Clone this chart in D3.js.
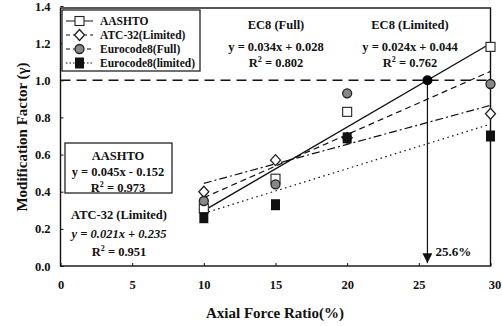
<!DOCTYPE html>
<html>
<head>
<meta charset="utf-8">
<script src="https://cdn.jsdelivr.net/npm/d3@7"></script>
<style>
  body { margin: 0; background: #fff; }
  svg text { font-family: "Liberation Serif", "Times New Roman", serif; font-weight: bold; fill: #111; }
</style>
</head>
<body>
<svg id="chart" width="502" height="326"></svg>
<script>
// datos
const ratios = [10, 15, 20, 30];
const aashto = [0.31, 0.47, 0.83, 1.18];
const atc32 = [0.40, 0.57, 0.69, 0.82];
const ec8Full = [0.35, 0.44, 0.93, 0.98];
const ec8Limited = [0.26, 0.33, 0.69, 0.70];
const xTicks = [0, 5, 10, 15, 20, 25, 30];
const yTicks = [0.0, 0.2, 0.4, 0.6, 0.8, 1.0, 1.2, 1.4];
// rectas de ajuste: pendiente, ordenada
const fitAashto = [0.045, -0.152];
const fitAtc = [0.021, 0.235];
const fitFull = [0.034, 0.028];
const fitLimited = [0.024, 0.044];
const crossing = 25.6;

const svg = d3.select("#chart");
const x = d3.scaleLinear().domain([0, 30]).range([60.5, 490.5]);
const y = d3.scaleLinear().domain([0, 1.4]).range([266, 6]);

// marco
svg.append("rect")
    .attr("x", x(0)).attr("y", 8)
    .attr("width", x(30) - x(0)).attr("height", y(0) - 8)
    .attr("fill", "none").attr("stroke", "#111").attr("stroke-width", 1.4);

// ejes
const xAxis = svg.append("g").attr("transform", `translate(0,${y(0)})`)
    .call(d3.axisBottom(x).tickValues(xTicks).tickFormat(d3.format("d")).tickSize(-3).tickPadding(14));
const yAxis = svg.append("g").attr("transform", `translate(${x(0)},0)`)
    .call(d3.axisLeft(y).tickValues(yTicks).tickFormat(d3.format(".1f")).tickSize(-3).tickPadding(10));
[xAxis, yAxis].forEach(g => {
    g.select(".domain").remove();
    g.selectAll("line").attr("stroke", "#111");
    g.selectAll("text").attr("font-size", 12.5).attr("font-family", "Liberation Serif").attr("font-weight", "bold");
});
xAxis.select(".tick:last-of-type text").attr("dx", 4);

svg.append("text").attr("x", 275).attr("y", 318).attr("text-anchor", "middle")
    .attr("font-size", 15).text("Axial Force Ratio(%)");
svg.append("text").attr("transform", "translate(27,137) rotate(-90)").attr("text-anchor", "middle")
    .attr("font-size", 15).text("Modification Factor (γ)");

// linea horizontal en 1.0
svg.append("line")
    .attr("x1", x(0)).attr("x2", x(30)).attr("y1", y(1)).attr("y2", y(1))
    .attr("stroke", "#111").attr("stroke-width", 1.4).attr("stroke-dasharray", "10,6");

// rectas de ajuste
const fits = [
    { f: fitAashto, dash: null },
    { f: fitAtc, dash: "8,3,2,3" },
    { f: fitFull, dash: "6,4" },
    { f: fitLimited, dash: "1.5,3.5" }
];
fits.forEach(d => {
    svg.append("line")
        .attr("x1", x(10)).attr("y1", y(d.f[0] * 10 + d.f[1]))
        .attr("x2", x(30)).attr("y2", y(d.f[0] * 30 + d.f[1]))
        .attr("stroke", "#111").attr("stroke-width", d.dash ? 1.2 : 1.4)
        .attr("stroke-dasharray", d.dash);
});

// flecha en 25.6%
svg.append("defs").append("marker")
    .attr("id", "arrow").attr("viewBox", "0 0 10 10").attr("refX", 10).attr("refY", 5)
    .attr("markerWidth", 10).attr("markerHeight", 10).attr("markerUnits", "userSpaceOnUse")
    .attr("orient", "auto")
    .append("path").attr("d", "M0,0 L10,5 L0,10 Z").attr("fill", "#111");
svg.append("line")
    .attr("x1", x(crossing)).attr("y1", y(1))
    .attr("x2", x(crossing)).attr("y2", y(0.015))
    .attr("stroke", "#111").attr("stroke-width", 1.2).attr("marker-end", "url(#arrow)");
svg.append("circle").attr("cx", x(crossing)).attr("cy", y(1)).attr("r", 5).attr("fill", "#000");
svg.append("text").attr("x", x(crossing) + 8).attr("y", 256).attr("font-size", 13)
    .attr("font-weight", "normal").text(crossing + "%");

// marcadores
function marker(g, type, cx, cy) {
    if (type === "square") {
        g.append("rect").attr("x", cx - 4.5).attr("y", cy - 4.5).attr("width", 9).attr("height", 9)
            .attr("fill", "#fff").attr("stroke", "#222").attr("stroke-width", 1.1);
    } else if (type === "diamond") {
        g.append("path").attr("d", `M${cx},${cy - 5.5} L${cx + 5},${cy} L${cx},${cy + 5.5} L${cx - 5},${cy} Z`)
            .attr("fill", "#fff").attr("stroke", "#222").attr("stroke-width", 1.3);
    } else if (type === "circle") {
        g.append("circle").attr("cx", cx).attr("cy", cy).attr("r", 4.5)
            .attr("fill", "#888").attr("stroke", "#222").attr("stroke-width", 1.3);
    } else {
        g.append("rect").attr("x", cx - 4.5).attr("y", cy - 5.5).attr("width", 9).attr("height", 11)
            .attr("fill", "#111");
    }
}
const series = [
    { name: "AASHTO", vals: aashto, type: "square", dash: null },
    { name: "ATC-32(Limited)", vals: atc32, type: "diamond", dash: "4,3,2,3" },
    { name: "Eurocode8(Full)", vals: ec8Full, type: "circle", dash: "4,3" },
    { name: "Eurocode8(limited)", vals: ec8Limited, type: "fill", dash: "1.5,2" }
];
const pts = svg.append("g");
series.forEach(s => {
    s.vals.forEach((v, i) => marker(pts, s.type, x(ratios[i]), y(v)));
});

// leyenda
const leg = svg.append("g");
leg.append("rect").attr("x", 62).attr("y", 10).attr("width", 138).attr("height", 61)
    .attr("fill", "#fff").attr("stroke", "#111").attr("stroke-width", 1.2);
series.forEach((s, i) => {
    const ly = 21 + i * 14;
    leg.append("line").attr("x1", 66).attr("x2", 93).attr("y1", ly).attr("y2", ly)
        .attr("stroke", "#111").attr("stroke-dasharray", s.dash);
    marker(leg, s.type, 79.5, ly);
    leg.append("text").attr("x", 100).attr("y", ly + 4).attr("font-size", 11.5).text(s.name);
});

// anotaciones
function block(cx, lines) {
    lines.forEach(l => {
        const t = svg.append("text").attr("x", cx).attr("y", l.y).attr("text-anchor", "middle")
            .attr("font-size", 12.5);
        if (l.italic) t.attr("font-style", "italic");
        if (l.r2) {
            t.append("tspan").text("R");
            t.append("tspan").attr("dy", -5).attr("font-size", 8).text("2");
            t.append("tspan").attr("dy", 5).text(" = " + l.r2);
        } else {
            t.text(l.text);
        }
    });
}
block(276, [{ y: 29, text: "EC8 (Full)" }, { y: 51, text: "y = 0.034x + 0.028" }, { y: 67, r2: "0.802" }]);
block(410, [{ y: 29, text: "EC8 (Limited)" }, { y: 51, text: "y = 0.024x + 0.044" }, { y: 67, r2: "0.762" }]);

svg.append("rect").attr("x", 65).attr("y", 143).attr("width", 107).attr("height", 50)
    .attr("fill", "#fff").attr("stroke", "#111").attr("stroke-width", 1.2);
block(118, [{ y: 160, text: "AASHTO" }, { y: 176, text: "y = 0.045x - 0.152" }, { y: 192, r2: "0.973" }]);
block(119, [{ y: 219, text: "ATC-32 (Limited)" }, { y: 238, text: "y = 0.021x + 0.235", italic: true }, { y: 256, r2: "0.951" }]);
</script>
</body>
</html>
